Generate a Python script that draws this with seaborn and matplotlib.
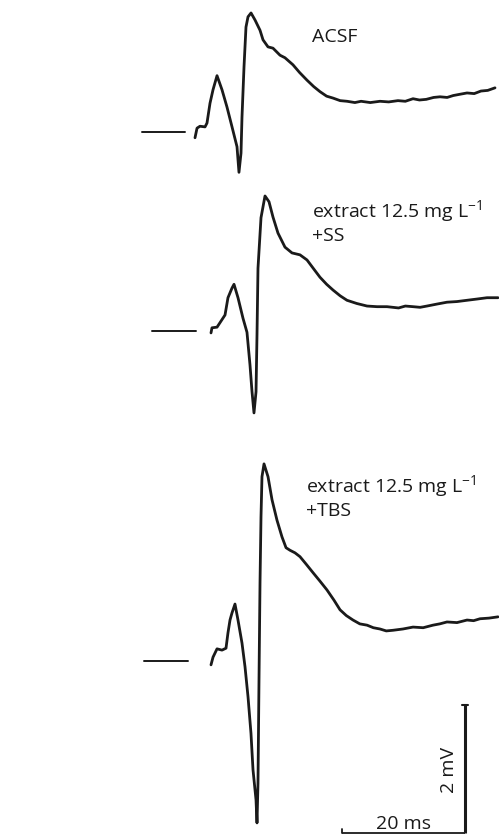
import numpy as np
import pandas as pd
import matplotlib
matplotlib.use("Agg")
import matplotlib.pyplot as plt
import seaborn as sns

# field potential traces, time in ms from trace start, voltage in mV from baseline
acsf_t = [0, 0.33, 0.81, 1.63, 1.95, 2.44, 2.93, 3.58, 4.39, 5.20, 6.02, 6.83, 7.15, 7.48,
          7.64, 7.97, 8.29, 8.62, 9.11, 9.76, 10.57, 11.06, 11.87, 12.68, 13.82, 14.63,
          15.93, 17.0, 18.21, 19.3, 20.33, 21.4, 22.44, 23.6, 24.72, 26.0, 27.0, 28.5,
          30.08, 31.5, 33.0, 34.2, 35.45, 36.5, 37.6, 38.8, 39.84, 41.0, 42.0, 43.1,
          44.23, 45.4, 46.5, 47.6, 48.78]
acsf_v = [-0.09, 0.06, 0.09, 0.08, 0.14, 0.45, 0.66, 0.88, 0.66, 0.39, 0.08, -0.23, -0.63,
          -0.33, 0.23, 1.02, 1.64, 1.80, 1.86, 1.75, 1.59, 1.44, 1.33, 1.31, 1.20, 1.16,
          1.05, 0.93, 0.81, 0.71, 0.63, 0.56, 0.53, 0.49, 0.48, 0.46, 0.48, 0.46,
          0.48, 0.47, 0.49, 0.48, 0.52, 0.50, 0.51, 0.54, 0.55, 0.54, 0.57, 0.59,
          0.61, 0.60, 0.64, 0.65, 0.69]

ss_t = [0, 0.16, 0.98, 1.46, 2.28, 2.76, 3.41, 3.74, 4.39, 5.20, 5.85, 6.34, 6.67, 6.99,
        7.32, 7.48, 7.64, 8.13, 8.78, 9.43, 10.08, 10.89, 12.03, 13.17, 14.47, 15.61,
        16.7, 17.72, 18.8, 19.84, 21.0, 22.11, 23.7, 25.37, 27.0, 28.62, 30.5, 31.6,
        32.85, 34.0, 35.12, 36.7, 38.37, 40.0, 41.63, 43.3, 44.88, 46.67]
ss_v = [-0.03, 0.05, 0.06, 0.13, 0.25, 0.52, 0.67, 0.73, 0.52, 0.20, -0.02, -0.53, -0.95,
        -1.28, -0.95, -0.06, 0.98, 1.77, 2.11, 2.02, 1.78, 1.53, 1.31, 1.22, 1.19, 1.11,
        0.97, 0.84, 0.73, 0.64, 0.55, 0.48, 0.43, 0.39, 0.38, 0.38, 0.36, 0.39,
        0.38, 0.37, 0.39, 0.42, 0.45, 0.46, 0.48, 0.50, 0.52, 0.52]

tbs_t = [0, 0.33, 0.98, 1.79, 2.44, 2.76, 3.09, 3.41, 3.90, 4.39, 5.04, 5.53, 6.02, 6.50,
         6.83, 7.32, 7.48, 7.64, 7.80, 7.97, 8.13, 8.29, 8.62, 9.27, 9.92, 10.73, 11.54,
         12.20, 12.85, 13.66, 14.47, 15.5, 16.59, 17.7, 18.86, 20.0, 20.98, 22.0, 23.09,
         24.2, 25.37, 26.4, 27.48, 28.5, 29.59, 31.2, 32.85, 34.5, 36.10, 37.2, 38.37,
         40.0, 41.63, 42.7, 43.74, 45.2, 46.67]
tbs_v = [-0.06, 0.06, 0.19, 0.17, 0.20, 0.44, 0.64, 0.75, 0.89, 0.64, 0.28, -0.09, -0.56,
         -1.13, -1.70, -2.17, -2.53, -1.91, -0.34, 1.22, 2.25, 2.88, 3.08, 2.88, 2.52, 2.20,
         1.94, 1.77, 1.73, 1.69, 1.63, 1.51, 1.38, 1.25, 1.11, 0.95, 0.80, 0.71, 0.64,
         0.58, 0.56, 0.52, 0.50, 0.47, 0.48, 0.50, 0.53, 0.52, 0.56, 0.58, 0.61,
         0.60, 0.64, 0.63, 0.66, 0.67, 0.69]

labels = [["ACSF"],
          ["extract 12.5 mg L$^{\u22121}$", "+SS"],
          ["extract 12.5 mg L$^{\u22121}$", "+TBS"]]

# page layout: 1 px = 1/6.15 ms horizontally, 1/64 mV vertically
PX_MS = 6.15
PX_MV = 64.0


def px(x, y):
    return x / PX_MS, -y / PX_MV


starts = [(195, 132), (211, 331), (211, 661)]          # trace origin in pixels
bars = [(142, 185), (152, 196), (144, 188)]             # baseline marker extents
text_pos = [(312, 42), (312, 217), (306, 492)]          # label left / first baseline

sns.set_theme(style="white")
plt.rcParams['font.family'] = ['Open Sans', 'DejaVu Sans']
plt.rcParams['mathtext.default'] = 'regular'

fig = plt.figure(figsize=(4.99, 8.35), dpi=100)
ax = fig.add_axes([0, 0, 1, 1])

frames = []
for i, (t, v) in enumerate([(acsf_t, acsf_v), (ss_t, ss_v), (tbs_t, tbs_v)]):
    x0, y0 = px(*starts[i])
    frames.append(pd.DataFrame({"t": np.array(t) + x0, "v": np.array(v) + y0, "trace": i}))
df = pd.concat(frames, ignore_index=True)

sns.lineplot(data=df, x="t", y="v", units="trace", estimator=None, sort=False,
             color="#1a1a1a", linewidth=2.0, ax=ax)

for i in range(3):
    xa, ya = px(bars[i][0], starts[i][1])
    xb, _ = px(bars[i][1], starts[i][1])
    ax.plot([xa, xb], [ya, ya], color="#1a1a1a", linewidth=1.4)
    for k, line in enumerate(labels[i]):
        tx, ty = px(text_pos[i][0], text_pos[i][1] + 24 * k)
        ax.text(tx, ty, line, fontsize=14, ha="left", va="baseline", color="#1a1a1a")

# scale bar: 20 ms x 2 mV
sx, sy = px(465, 833)
ax.plot([sx - 20, sx], [sy, sy], color="#1a1a1a", linewidth=1.3, solid_capstyle="butt")
ax.plot([sx, sx], [sy, sy + 2], color="#1a1a1a", linewidth=2.2, solid_capstyle="butt")
ax.plot([sx - 20, sx - 20], [sy, sy + 0.06], color="#1a1a1a", linewidth=1.3)
ax.plot([sx - 0.5, sx + 0.5], [sy + 2, sy + 2], color="#1a1a1a", linewidth=1.5)
lx, ly = px(404, 829)
ax.text(lx, ly, "20 ms", fontsize=14, ha="center", va="baseline", color="#1a1a1a")
mx, my = px(458, 770)
ax.text(mx, my, "2 mV", fontsize=14, ha="right", va="center", rotation=90,
        color="#1a1a1a")

ax.set_xlim(0, 499 / PX_MS)
ax.set_ylim(-835 / PX_MV, 0)
ax.set_axis_off()
if ax.get_legend():
    ax.get_legend().remove()

fig.savefig("out.png", dpi=100)
